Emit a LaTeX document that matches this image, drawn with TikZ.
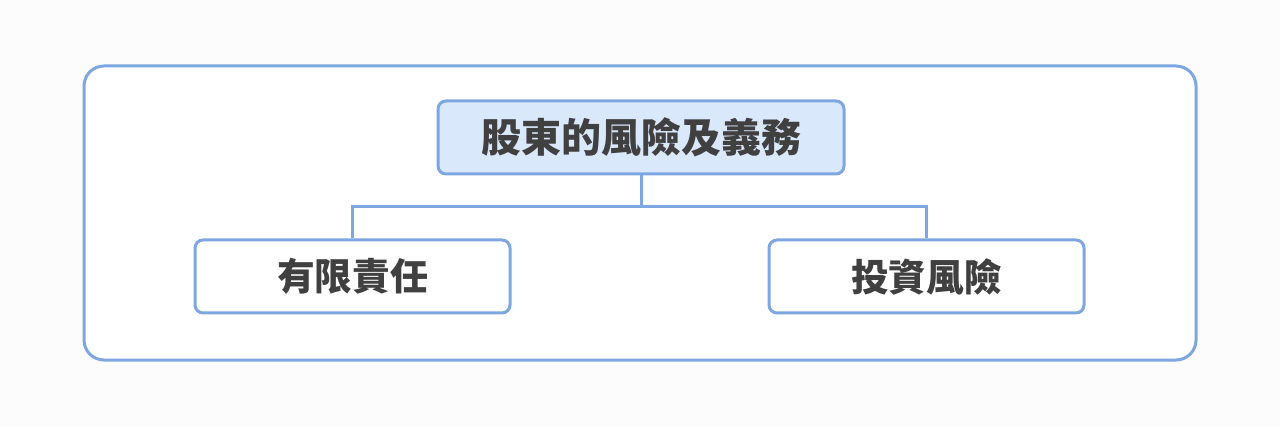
\documentclass[tikz,border=0pt]{standalone}
\usepackage{fontspec}
\newfontfamily\cjk{Noto Sans CJK TC}
\usetikzlibrary{positioning}
\definecolor{boxline}{RGB}{126,166,224}
\definecolor{boxfill}{RGB}{218,232,252}
\definecolor{txtgray}{RGB}{64,64,64}
\definecolor{pagebg}{RGB}{252,252,252}
\tikzset{
  topbox/.style={draw=boxline,line width=2.25pt,fill=boxfill,rounded corners=6pt,
    minimum width=304.5pt,minimum height=54.75pt,text=txtgray,
    font=\cjk\bfseries\fontsize{30pt}{34pt}\selectfont},
  subbox/.style={draw=boxline,line width=2.25pt,fill=white,rounded corners=6pt,
    minimum width=236.25pt,minimum height=54.75pt,text=txtgray,
    font=\cjk\bfseries\fontsize{28.25pt}{32pt}\selectfont},
  link/.style={draw=boxline,line width=2.25pt}
}
\begin{document}
\begin{tikzpicture}[x=0.75pt,y=0.75pt,yscale=-1,xscale=1]
%set diagram area 1280 x 427
\path[fill=pagebg] (0,0) rectangle (1280,427);

%Rounded Rect outer frame
\draw[boxline,line width=2.25pt,fill=white,rounded corners=15pt] (84,66) rectangle (1196,360);

% Text Node
\node[topbox] (risk) at (641,137.5) {股東的風險及義務};
% Text Node
\node[subbox] (limited) at (352.5,276.5) {有限責任};
% Text Node
\node[subbox] (invest) at (926.5,276.5) {投資風險};

%Connectors
\draw[link] (risk.south) -- ++(0,31) coordinate (fork);
\draw[link] (fork) -| (limited.north);
\draw[link] (fork) -| (invest.north);

\end{tikzpicture}
\end{document}
